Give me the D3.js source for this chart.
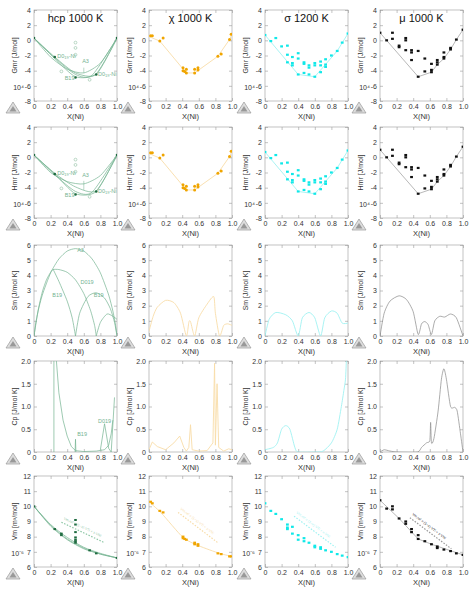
<!DOCTYPE html>
<html>
<head>
<meta charset="utf-8">
<script src="https://cdn.jsdelivr.net/npm/d3@7"></script>
<style>
  body { margin: 0; background: #fff; }
  text { font-family: "Liberation Sans", Arial, sans-serif; }
</style>
</head>
<body>
<svg id="chart" width="474" height="594"></svg>
<script>
// phases (columns) and colours
const phases = ['hcp 1000 K', 'χ 1000 K', 'σ 1200 K', 'μ 1000 K'];
const dotColors = ['#1f6b40', '#f0a500', '#10e8e8', '#111'];
const lineColors = ['#74b391', '#f5c96a', '#30eaea', '#888'];
const paleColors = ['#8cc6a4', '#f8dca8', '#9ff2f2', '#999'];

const xTicks = [0, 0.2, 0.4, 0.6, 0.8, 1.0];

// ---- row 1/2: Gmr & Hmr (x 10^4 J/mol)
const hcpA3 = [[0,0.3],[0.2,-2.2],[0.4,-3.8],[0.6,-4.3],[0.8,-3.0],[1,0.3]];
const hcpB19 = [[0,0.3],[0.25,-2.4],[0.5,-4.8],[0.75,-4.4],[1,0.3]];
const hcpD019 = [[0,0.3],[0.25,-2.2],[0.5,-4.3],[0.75,-4.5],[1,0.3]];
const hcpD019b = [[0,0.3],[0.25,-2.3],[0.5,-4.5],[0.7,-4.6],[1,0.3]];
const hcpDots = [[0,0.3],[0.25,-2.2],[0.5,-4.9],[0.75,-4.5],[1,0.3]];
const hcpOpen = [[0.5,-0.3],[0.5,-1.0],[0.5,-1.9],[0.33,-4.1],[0.67,-5.2]];
const hcpHA3 = [[0,0.3],[0.2,-2.0],[0.4,-3.2],[0.6,-3.5],[0.8,-2.4],[1,0.3]];
const hcpHB19 = [[0,0.3],[0.25,-2.2],[0.5,-4.8],[0.75,-4.5],[1,0.3]];
const hcpHD019 = [[0,0.3],[0.25,-2.1],[0.5,-3.9],[0.75,-4.4],[1,0.3]];

const chiDots = [[0.02,0.6],[0.04,0.6],[0.13,-0.1],[0.17,0.3],[0.41,-3.6],[0.41,-4.0],[0.43,-4.1],[0.45,-3.8],[0.45,-4.3],[0.55,-4.3],[0.55,-3.8],[0.59,-3.6],[0.59,-3.9],[0.83,-2.1],[0.87,-1.8],[0.97,0.1],[0.99,0.8]];
const chiHull = [[0,0.5],[0.13,-0.1],[0.45,-4.3],[0.55,-4.3],[0.83,-2.1],[0.97,0.1],[1,0.8]];

const sigDots = [[0,0.7],[0.07,-0.1],[0.13,0.3],[0.2,-0.8],[0.27,-0.7],[0.27,-1.9],[0.27,-2.9],[0.33,-2.2],[0.33,-3.0],[0.33,-3.3],[0.4,-1.7],[0.4,-2.4],[0.4,-4.5],[0.47,-2.9],[0.47,-3.1],[0.47,-4.3],[0.53,-3.3],[0.53,-3.6],[0.53,-4.5],[0.6,-3.0],[0.6,-3.3],[0.6,-4.8],[0.67,-2.8],[0.67,-3.3],[0.67,-4.2],[0.73,-2.5],[0.73,-3.2],[0.73,-3.5],[0.8,-2.0],[0.87,-1.4],[0.93,-0.3],[1,0.9]];
const sigHull = [[0,0.7],[0.4,-4.5],[0.6,-4.8],[0.87,-1.4],[1,0.9]];

const muDots = [[0,1],[0.08,0],[0.15,1],[0.15,0.2],[0.23,-0.7],[0.23,-0.9],[0.31,0.3],[0.31,0],[0.31,-1.3],[0.38,-1.3],[0.38,-1.6],[0.38,-2.6],[0.46,-1.4],[0.46,-4.8],[0.54,-2.4],[0.54,-4.1],[0.62,-3.1],[0.62,-3.9],[0.62,-4.2],[0.69,-2.6],[0.69,-2.9],[0.69,-3.2],[0.77,-1.6],[0.77,-2.2],[0.77,-2.4],[0.85,-1.0],[0.85,-1.2],[0.92,0.1],[1,1.4]];
const muHull = [[0,1],[0.46,-4.8],[0.62,-4.2],[0.69,-3.2],[0.77,-2.4],[0.85,-1.2],[0.92,0.1],[1,1.4]];

// ---- row 3: Sm
const smA3 = [[0,0],[0.02,0.8],[0.05,1.65],[0.1,2.7],[0.2,4.16],[0.3,5.08],[0.4,5.6],[0.5,5.76],[0.6,5.6],[0.7,5.08],[0.8,4.16],[0.9,2.7],[0.95,1.65],[0.98,0.8],[1,0]];
const smD019 = [[0,0],[0.05,1.7],[0.1,2.9],[0.15,3.7],[0.2,4.2],[0.23,4.38],[0.3,4.38],[0.4,4.2],[0.5,3.7],[0.6,2.8],[0.68,1.7],[0.73,0.7],[0.75,0]];
const smD019b = [[0.75,0],[0.8,0.9],[0.88,1.45],[0.95,1.3],[1,1.1]];
const smB19a = [[0.23,4.4],[0.3,3.6],[0.4,2.3],[0.46,1.2],[0.5,0]];
const smB19b = [[0.5,0],[0.55,1.5],[0.65,2.6],[0.75,2.85],[0.85,2.5],[0.92,1.8],[0.97,0.9],[1,0]];
const smChi = [[0,0.3],[0.05,1.3],[0.1,1.9],[0.2,2.35],[0.3,2.2],[0.38,1.5],[0.45,0],[0.48,0.9],[0.5,0.95],[0.55,0],[0.6,1.2],[0.7,2.1],[0.78,2.6],[0.8,1.5],[0.85,0],[0.9,0.7],[0.95,0.8],[1,0.7]];
const smSig = [[0,0],[0.05,1.1],[0.13,1.55],[0.25,1.4],[0.33,1.0],[0.4,0],[0.45,1.2],[0.53,1.55],[0.6,1.2],[0.67,0],[0.72,1.2],[0.8,1.65],[0.87,1.5],[0.93,0.85],[1,0.85]];
const smMu = [[0,0],[0.05,1.5],[0.12,2.3],[0.23,2.65],[0.32,2.4],[0.4,1.6],[0.46,0.1],[0.5,0.8],[0.54,0.95],[0.58,0.75],[0.62,0.1],[0.66,1.0],[0.72,1.3],[0.78,1.25],[0.85,1.45],[0.92,1.2],[1,0]];

// ---- row 4: Cp
const cpHcp1 = [[0.27,2],[0.3,1.3],[0.35,0.7],[0.4,0.35],[0.45,0.12],[0.5,0.03],[0.6,0.01],[0.75,0.02],[0.85,0.05],[0.9,0.15],[0.93,0.4],[0.95,0.7]];
const cpHcp2 = [[0.24,2],[0.24,0]];
const cpHcpB19 = [[0.495,0],[0.5,0.28],[0.505,0]];
const cpHcpD019 = [[0.8,0.05],[0.85,0.62],[0.9,0.08],[0.93,0.0],[0.97,1.2]];
const cpChi = [[0,0.05],[0.04,0.22],[0.1,0.12],[0.2,0.05],[0.3,0.2],[0.37,0.35],[0.42,0.1],[0.45,0.02],[0.48,0.1],[0.5,0.6],[0.52,0.05],[0.6,0.02],[0.7,0.03],[0.77,0.2],[0.79,1.95],[0.8,0.15],[0.82,1.5],[0.84,0.1],[0.9,0.02],[0.96,0.07],[1,0.05]];
const cpSig = [[0,0.05],[0.1,0.1],[0.15,0.2],[0.2,0.5],[0.25,0.58],[0.3,0.5],[0.36,0.1],[0.4,0],[0.6,0],[0.7,0.02],[0.8,0.2],[0.87,0.5],[0.92,1.0],[0.95,1.35],[0.97,1.6],[0.98,2]];
const cpMu = [[0,0],[0.05,0.05],[0.1,0.03],[0.2,0],[0.45,0],[0.5,0.1],[0.56,0.2],[0.6,0.25],[0.61,0.65],[0.62,0.2],[0.65,0.3],[0.7,0.9],[0.74,1.6],[0.77,1.83],[0.8,1.6],[0.85,1.0],[0.9,0.98],[0.93,0.9],[0.97,0.4],[1,0]];

// ---- row 5: Vm (x 10^-6 m3/mol)
const vmHcpLines = [
  [[0,10],[0.2,8.8],[0.4,7.95],[0.6,7.3],[0.8,6.9],[1,6.6]],
  [[0,10],[0.2,8.75],[0.4,7.85],[0.6,7.25],[0.8,6.85],[1,6.6]],
  [[0,10],[0.2,8.7],[0.4,7.8],[0.6,7.2],[0.8,6.85],[1,6.6]]
];
const vmHcpDots = [[0,10],[0.25,8.5],[0.33,8.2],[0.33,8.1],[0.5,9.1],[0.5,8.8],[0.5,8.3],[0.5,7.95],[0.5,7.8],[0.5,7.7],[0.5,7.6],[0.67,7.1],[0.75,6.9],[1,6.6]];
const vmChiDots = [[0.02,10.3],[0.04,10.2],[0.13,9.7],[0.17,9.6],[0.41,8.0],[0.41,7.9],[0.43,7.85],[0.45,7.8],[0.55,7.6],[0.55,7.5],[0.59,7.5],[0.59,7.4],[0.83,6.9],[0.87,6.85],[0.97,6.7],[0.99,6.7]];
const vmChiLine = [[0,10.3],[0.15,9.55],[0.41,7.95],[0.6,7.4],[0.85,6.9],[1,6.7]];
const vmSigDots = [[0,10.2],[0.07,9.7],[0.13,9.5],[0.2,9.15],[0.27,8.8],[0.27,8.6],[0.27,8.5],[0.33,8.65],[0.33,8.2],[0.4,8.1],[0.4,7.8],[0.47,7.9],[0.47,7.7],[0.53,7.6],[0.6,7.4],[0.6,7.3],[0.67,7.3],[0.67,7.2],[0.73,7.1],[0.8,7.0],[0.87,6.85],[0.93,6.75],[1,6.65]];
const vmMuDots = [[0,10.4],[0.08,9.85],[0.15,10.0],[0.15,9.8],[0.23,9.2],[0.31,9.0],[0.31,8.85],[0.38,8.5],[0.38,8.3],[0.46,8.1],[0.46,7.85],[0.54,7.7],[0.62,7.5],[0.69,7.35],[0.69,7.25],[0.77,7.15],[0.85,7.05],[0.92,6.9],[1,6.8]];
const vmMuLine = [[0,10.4],[0.23,9.2],[0.46,7.85],[0.62,7.5],[1,6.8]];
const vmRef = [
  [[0.33,8.95],[0.85,7.6]],
  [[0.35,9.6],[0.83,7.6]],
  [[0.35,9.35],[0.85,7.3]],
  [[0.36,9.25],[0.86,7.2]]
];

const rows = [
  { label: 'Gmr [J/mol]', domain: [-8, 4], ticks: [-8,-6,-4,-2,0,2,4], fmt: d => d, exp: '10⁴' },
  { label: 'Hmr [J/mol]', domain: [-8, 4], ticks: [-8,-6,-4,-2,0,2,4], fmt: d => d, exp: '10⁴' },
  { label: 'Sm [J/mol K]', domain: [0, 6], ticks: [0,1,2,3,4,5,6], fmt: d => d },
  { label: 'Cp [J/mol K]', domain: [0, 2], ticks: [0,0.5,1,1.5,2], fmt: d => d === 0 ? '0' : d3.format('.1f')(d) },
  { label: 'Vm [m³/mol]', domain: [6, 12], ticks: [6,7,8,9,10,11,12], fmt: d => d, exp: '10⁻⁶' }
];

const colX = [34, 149, 265, 380];
const rowY = [10, 127, 245, 361, 476];
const pw = 83, ph = 91;

const svg = d3.select('#chart');

function panel(r, c) {
  const g = svg.append('g').attr('transform', `translate(${colX[c]},${rowY[r]})`);
  const x = d3.scaleLinear().domain([0, 1]).range([0, pw]);
  const y = d3.scaleLinear().domain(rows[r].domain).range([ph, 0]);
  const frame = '#9a9a9a';

  g.append('rect').attr('width', pw).attr('height', ph)
    .attr('fill', 'none').attr('stroke', frame).attr('stroke-width', 0.6);

  const xa = g.append('g').attr('transform', `translate(0,${ph})`)
    .call(d3.axisBottom(x).tickValues(xTicks).tickSize(-3).tickPadding(3)
      .tickFormat(d => d === 0 ? '0' : d3.format('.1f')(d)));
  const xt = g.append('g').call(d3.axisTop(x).tickValues(xTicks).tickSize(-3).tickFormat(''));
  const ya = g.append('g')
    .call(d3.axisLeft(y).tickValues(rows[r].ticks).tickSize(-3).tickPadding(3).tickFormat(rows[r].fmt));
  const yr = g.append('g').attr('transform', `translate(${pw},0)`)
    .call(d3.axisRight(y).tickValues(rows[r].ticks).tickSize(-3).tickFormat(''));
  [xa, xt, ya, yr].forEach(a => {
    a.select('.domain').remove();
    a.selectAll('line').attr('stroke', frame).attr('stroke-width', 0.6);
    a.selectAll('text').attr('font-size', 7).attr('fill', '#333');
  });

  g.append('text').attr('x', pw / 2).attr('y', ph + 18).attr('text-anchor', 'middle')
    .attr('font-size', 7.5).attr('fill', '#333').text('X(Ni)');
  g.append('text').attr('transform', `translate(-17,${ph / 2}) rotate(-90)`)
    .attr('text-anchor', 'middle').attr('font-size', 7).attr('fill', '#333').text(rows[r].label);
  if (rows[r].exp) {
    g.append('text').attr('x', -10).attr('y', y(rows[r].domain[0] + (rows[r].domain[1] - rows[r].domain[0]) * 0.12))
      .attr('text-anchor', 'end').attr('font-size', 7).attr('fill', '#333').text(rows[r].exp);
  }
  // logo triangle
  const tx = -21, ty = ph + 8;
  g.append('path').attr('d', `M${tx},${ty - 7}L${tx + 7},${ty + 4}L${tx - 7},${ty + 4}Z`)
    .attr('fill', '#ddd').attr('stroke', '#999').attr('stroke-width', 0.7);
  g.append('path').attr('d', `M${tx},${ty - 3}L${tx + 3.5},${ty + 2.5}L${tx - 3.5},${ty + 2.5}Z`)
    .attr('fill', '#999');

  const line = d3.line().x(d => x(d[0])).y(d => y(d[1]));
  const clip = 'clip' + r + c;
  g.append('clipPath').attr('id', clip).append('rect').attr('width', pw).attr('height', ph);
  const body = g.append('g').attr('clip-path', `url(#${clip})`);
  const draw = (pts, color, curved, w = 0.9, dash = null) =>
    body.append('path').datum(pts).attr('d', curved ? d3.line().curve(d3.curveCardinal.tension(0.3)).x(d => x(d[0])).y(d => y(d[1])) : line)
      .attr('fill', 'none').attr('stroke', color).attr('stroke-width', w).attr('stroke-dasharray', dash);
  const dots = (pts, color, shape, size = 2.2) => {
    pts.forEach(p => {
      if (shape === 'sq') {
        body.append('rect').attr('x', x(p[0]) - size / 2 - 0.3).attr('y', y(p[1]) - size / 2)
          .attr('width', size + 0.6).attr('height', size).attr('fill', color);
      } else {
        body.append('circle').attr('cx', x(p[0])).attr('cy', y(p[1])).attr('r', size / 2 + 0.4).attr('fill', color);
      }
    });
  };
  const lab = (t, px, py, color, sub) => {
    const tt = g.append('text').attr('x', x(px)).attr('y', y(py)).attr('font-size', 5.5).attr('fill', color);
    if (sub) {
      tt.append('tspan').text('D0');
      tt.append('tspan').attr('font-size', 4).attr('dy', 1.5).text('19');
      tt.append('tspan').attr('dy', -1.5).text('-Ni');
    } else tt.text(t);
  };
  const col = lineColors[c], dc = dotColors[c], pale = paleColors[c];

  if (r <= 1) {
    if (c === 0) {
      const set = r === 0 ? [hcpA3, hcpB19, hcpD019, hcpD019b] : [hcpHA3, hcpHB19, hcpHD019, hcpD019b];
      set.forEach(s => draw(s, col, true, 0.7));
      hcpOpen.forEach(p => body.append('circle').attr('cx', x(p[0])).attr('cy', y(p[1])).attr('r', 1.4)
        .attr('fill', 'none').attr('stroke', '#a8cdb6').attr('stroke-width', 0.8));
      dots(hcpDots, dc, 'c', 1.8);
      lab('', 0.28, -2.3, col, true);
      lab('A3', 0.58, r === 0 ? -3.0 : -2.6, col);
      lab('B19', 0.37, -5.2, col);
      lab('', 0.77, -4.7, col, true);
      g.append('line').attr('x1', x(0.6)).attr('x2', x(0.6)).attr('y1', y(r === 0 ? -3.6 : -3.1)).attr('y2', y(-4.3))
        .attr('stroke', col).attr('stroke-width', 0.5);
    } else if (c === 1) { draw(chiHull, pale, false); dots(chiDots, dc, 'c'); }
    else if (c === 2) { draw(sigHull, pale, false); dots(sigDots, dc, 'sq'); }
    else { draw(muHull, '#999', false, 0.7); dots(muDots, dc, 'sq'); }
  } else if (r === 2) {
    if (c === 0) {
      [smA3, smD019, smD019b, smB19a, smB19b].forEach(s => draw(s, col, true, 0.7));
      lab('A3', 0.52, 5.55, col); lab('D019', 0.56, 3.45, col);
      lab('B19', 0.22, 2.6, col); lab('B19', 0.72, 2.6, col);
    } else if (c === 1) draw(smChi, pale, true);
    else if (c === 2) draw(smSig, pale, true);
    else draw(smMu, '#888', true, 0.7);
  } else if (r === 3) {
    if (c === 0) {
      [cpHcp1, cpHcp2, cpHcpB19, cpHcpD019].forEach(s => draw(s, col, false, 0.7));
      lab('B19', 0.52, 0.35, col); lab('D019', 0.77, 0.63, col);
    } else if (c === 1) draw(cpChi, pale, false);
    else if (c === 2) draw(cpSig, pale, true);
    else draw(cpMu, '#888', true, 0.7);
  } else {
    const ref = vmRef[c];
    draw(ref, pale, false, 1.2, '1.5,1.5');
    const ang = Math.atan2(y(ref[1][1]) - y(ref[0][1]), x(ref[1][0]) - x(ref[0][0])) * 180 / Math.PI;
    g.append('text')
      .attr('transform', `translate(${x(ref[0][0]) + 2},${y(ref[0][1]) - 3}) rotate(${ang})`)
      .attr('font-size', 3.5).attr('fill', c === 3 ? '#222' : pale)
      .text('Vm,ref = (1−x)·VTi + x·VNi');
    if (c === 0) { vmHcpLines.forEach(s => draw(s, col, true, 0.7)); dots(vmHcpDots, dc, 'sq', 2); }
    else if (c === 1) { draw(vmChiLine, pale, true); dots(vmChiDots, dc, 'sq'); }
    else if (c === 2) { dots(vmSigDots, dc, 'sq'); }
    else { draw(vmMuLine, '#999', false, 0.7); dots(vmMuDots, dc, 'sq'); }
  }

  if (r === 0) {
    g.append('text').attr('x', pw / 2).attr('y', 12).attr('text-anchor', 'middle')
      .attr('font-size', 11).attr('fill', '#111').text(phases[c]);
  }
}

for (let r = 0; r < 5; r++) for (let c = 0; c < 4; c++) panel(r, c);
</script>
</body>
</html>
